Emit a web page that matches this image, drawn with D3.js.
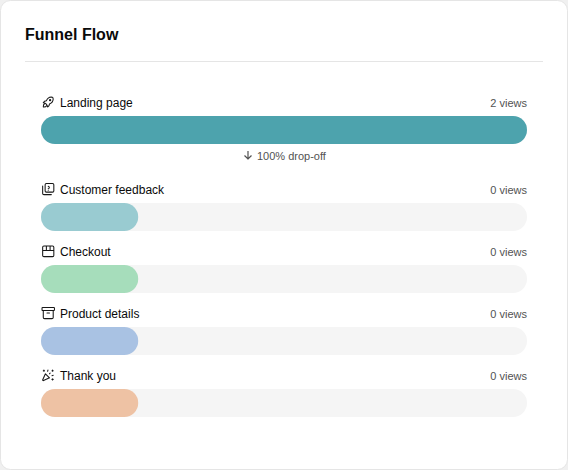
<!DOCTYPE html>
<html><head><meta charset="utf-8">
<script src="https://cdn.jsdelivr.net/npm/d3@7"></script>
<style>html,body{margin:0;padding:0;background:#fff}svg{display:block}text{font-family:"Liberation Sans",Arial,sans-serif}</style>
</head><body><div id="c"></div>
<script>
const steps=["Landing page","Customer feedback","Checkout","Product details","Thank you"];
const views=[2,0,0,0,0];
const shownShare=[1,0.2,0.2,0.2,0.2];
const colors=["#4da3ad","#99cbd1","#a6ddbb","#a9c2e3","#eec2a4"];
const rowTops=[116,203,265,327,389];
const W=568,H=470;
const svg=d3.select("#c").append("svg").attr("width",W).attr("height",H);
svg.append("rect").attr("width",W).attr("height",H).attr("fill","#f0f0f0");
svg.append("rect").attr("x",.5).attr("y",.5).attr("width",W-1).attr("height",H-1).attr("rx",10).attr("fill","#fff").attr("stroke","#e5e5e5");
svg.append("text").attr("x",25).attr("y",40).attr("font-size",16).attr("font-weight",700).attr("fill","#0a0a0a").text("Funnel Flow");
svg.append("line").attr("x1",25).attr("x2",543).attr("y1",61.5).attr("y2",61.5).attr("stroke","#e5e5e5");
const x=d3.scaleLinear().domain([0,1]).range([41,527]);
const g=svg.selectAll("g.r").data(steps).join("g").attr("class","r");
g.append("rect").attr("x",x(0)).attr("y",(d,i)=>rowTops[i]).attr("width",x(1)-x(0)).attr("height",28).attr("rx",14).attr("fill","#f5f5f5");
g.append("rect").attr("x",x(0)).attr("y",(d,i)=>rowTops[i]).attr("width",(d,i)=>x(shownShare[i])-x(0)).attr("height",28).attr("rx",14).attr("fill",(d,i)=>colors[i]);
g.append("text").attr("x",60).attr("y",(d,i)=>rowTops[i]-9).attr("font-size",12).attr("fill","#0a0a0a").text(d=>d);
g.append("text").attr("x",527).attr("y",(d,i)=>rowTops[i]-9).attr("text-anchor","end").attr("font-size",11).attr("fill","#525252").text((d,i)=>views[i]+" views");
svg.append("text").attr("x",257).attr("y",160).attr("font-size",11).attr("fill","#525252").text("100% drop-off");
svg.append("path").attr("d","M248 151v8.500M244.500 155.500l3.500 3.500 3.500-3.500").attr("fill","none").attr("stroke","#525252").attr("stroke-width",1.2);
const icons=[
"M4 13a8 8 0 0 1 7 7a6 6 0 0 0 3 -5a9 9 0 0 0 6 -8a3 3 0 0 0 -3 -3a9 9 0 0 0 -8 6a6 6 0 0 0 -5 3M7 14a6 6 0 0 0 -3 6a6 6 0 0 0 6 -3M15 9m-1 0a1 1 0 1 0 2 0a1 1 0 1 0 -2 0",
"M9 3h10a2 2 0 0 1 2 2v10a2 2 0 0 1 -2 2h-10a2 2 0 0 1 -2 -2v-10a2 2 0 0 1 2 -2M3 7v12a2 2 0 0 0 2 2h12M12 7.500a2 2 0 0 1 1 3.500l-1 .5M12 14v.01",
"M5 4h14a2 2 0 0 1 2 2v13a2 2 0 0 1 -2 2h-14a2 2 0 0 1 -2 -2v-13a2 2 0 0 1 2 -2M3 11h18M9 4v7M15 4v7",
"M3 3h18a1 1 0 0 1 1 1v3a1 1 0 0 1 -1 1h-18a1 1 0 0 1 -1 -1v-3a1 1 0 0 1 1 -1M4 8v11a2 2 0 0 0 2 2h12a2 2 0 0 0 2 -2v-11M10 12h4",
"M4 5h2M5 4v2M11.500 4l-.5 2M18 5h2M19 4v2M15 9l-1 1M18 13l2 -.5M18 19h2M19 18v2M14 16.518l-6.518 -6.518l-4.390 9.580a1 1 0 0 0 1.329 1.329l9.579 -4.390"];
const iconTops=[94.600,181.600,243.600,305.600,367.600];
svg.selectAll("path.i").data(icons).join("path").attr("class","i").attr("d",d=>d)
  .attr("transform",(d,i)=>`translate(40.800,${iconTops[i]}) scale(.62)`)
  .attr("fill","none").attr("stroke","#171717").attr("stroke-width",1.7).attr("stroke-linecap","round").attr("stroke-linejoin","round");
</script></body></html>
